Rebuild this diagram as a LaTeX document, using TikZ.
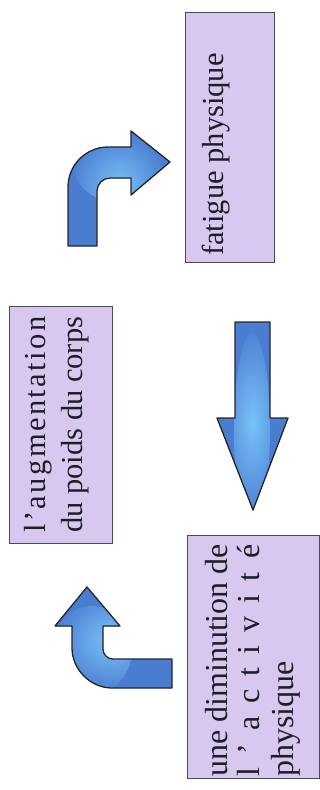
\documentclass[tikz,border=0pt]{standalone}
\usepackage{fontspec}
\setmainfont{Liberation Serif}
\definecolor{boxfill}{HTML}{D8C8F0}
\definecolor{boxline}{HTML}{4A4A55}
\definecolor{arrowblue}{HTML}{4A7CD0}
\definecolor{arrowhi}{HTML}{78C2F8}
\definecolor{ink}{HTML}{1E1E28}
\tikzset{
  stagebox/.style={draw=boxline, line width=1pt, fill=boxfill, inner sep=0pt},
  lbl/.style={rotate=90, anchor=base west, inner sep=0pt, text=ink,
    font=\fontsize{30.5}{36}\selectfont},
  lblbig/.style={lbl, font=\fontsize{32}{36}\selectfont},
  blockarrow/.style={draw=black!85, line width=1.3pt, line join=round, fill=arrowblue}
}
\begin{document}
\begin{tikzpicture}[x=1pt, y=-1pt]
\useasboundingbox (0,0) rectangle (320,790);

% the three stages
\node[stagebox, minimum width=89pt, minimum height=250pt] (fatigue) at (229.5,137) {};
\node[stagebox, minimum width=103pt, minimum height=237pt] (poids) at (60.5,424.5) {};
\node[stagebox, minimum width=132pt, minimum height=243pt] (activite) at (253,656.5) {};

% their labels, set sideways
\node[lbl] (fatiguetxt) at (223,256) {fatigue physique};
\node[lbl] (poidstxta) at (45,533) {\addfontfeature{LetterSpace=8}l’augmentation};
\node[lbl] (poidstxtb) at (82,533) {du poids du corps};
\node[lblbig] (acttxta) at (227,777) {une diminution de};
\node[lblbig] (acttxtb) at (259,777) {\makebox[232pt][s]{l ’ a c t i v i t é}};
\node[lblbig] (acttxtc) at (293,777) {physique};

% bent arrow towards the fatigue stage
\draw[blockarrow, path picture={
    \shade[inner color=arrowhi, outer color=arrowblue] (118,166) ellipse (44 and 36);}]
  (68,246) -- (68,187) .. controls (68,165) and (86,147) .. (108,147)
  -- (131,147) -- (131,131) -- (170,162) -- (131,195) -- (131,178)
  -- (110,178) .. controls (103,178) and (97,184) .. (97,191)
  -- (97,246) -- cycle;

% straight arrow down to the activity stage
\draw[blockarrow, path picture={
    \shade[inner color=arrowhi, outer color=arrowblue] (252,428) ellipse (18 and 95);}]
  (235,322) -- (270,322) -- (270,418) -- (288,418) -- (253,510)
  -- (217,418) -- (235,418) -- cycle;

% bent arrow up to the body weight stage
\draw[blockarrow, path picture={
    \shade[inner color=arrowhi, outer color=arrowblue] (92,650) ellipse (40 and 44);}]
  (172,659) -- (113,659) .. controls (107.5,659) and (103,654.5) .. (103,649)
  -- (103,626) -- (120,626) -- (87,587) -- (55,626) -- (72,626)
  -- (72,648) .. controls (72,670) and (91,688) .. (112,688)
  -- (172,688) -- cycle;
\end{tikzpicture}
\end{document}
